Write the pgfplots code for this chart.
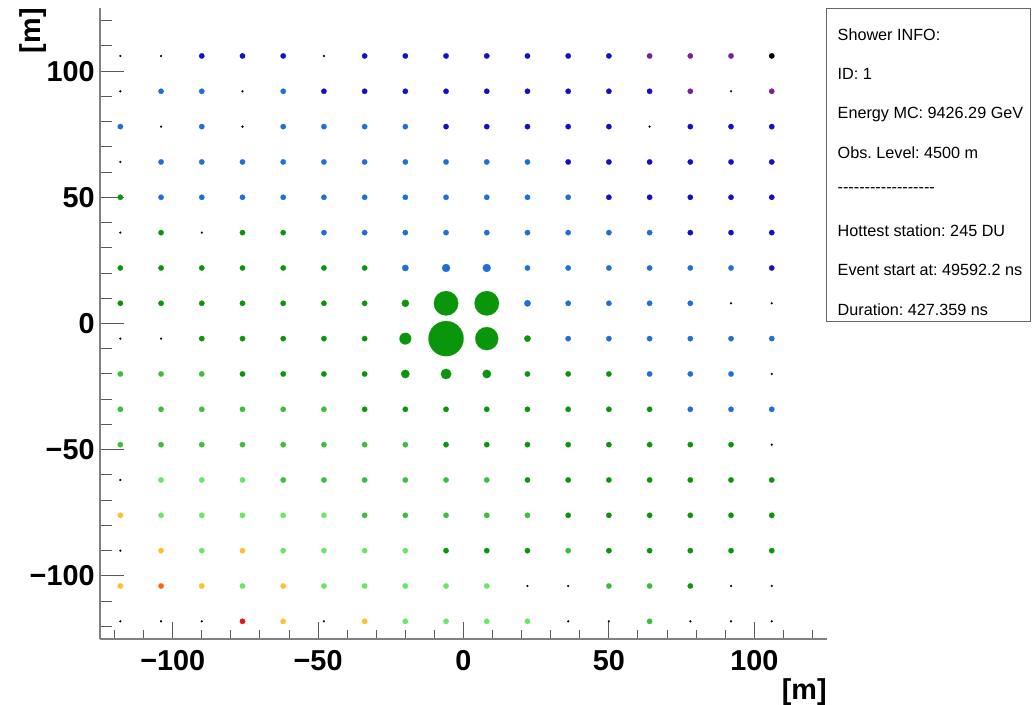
\documentclass[border=0pt]{standalone}
\usepackage{fontspec}
\setmainfont{Liberation Sans}
\usepackage{pgfplots}
\pgfplotsset{compat=1.18}

\definecolor{cDB}{HTML}{1212C2}
\definecolor{cB}{HTML}{1E70D2}
\definecolor{cP}{HTML}{7A1E9E}
\definecolor{cG}{HTML}{0A960A}
\definecolor{cMG}{HTML}{3CBE3C}
\definecolor{cLG}{HTML}{66E866}
\definecolor{cY}{HTML}{FFC02A}
\definecolor{cO}{HTML}{FF6414}
\definecolor{cR}{HTML}{EE1414}
\definecolor{cK}{HTML}{000000}

\pgfplotsset{
  stn/.style={scatter, only marks, mark=*,
    scatter/use mapped color={draw=#1, fill=#1},
    mark options={line width=0.1pt},
    visualization depends on={\thisrow{s}\as\perpointmarksize},
    scatter/@pre marker code/.append style={/tikz/mark size=\perpointmarksize}},
  frame/.style={
    at={(50pt,33pt)}, anchor=south west,
    scale only axis, width=363.5pt, height=315.5pt,
    xmin=-125, xmax=125, ymin=-125, ymax=125,
    axis line style={draw opacity=0},
    tick align=inside,
    xtick pos=left, ytick pos=left,
    tick style={draw=black!65, line width=0.5pt},
    clip=false,
  },
}
\newcommand{\tickfont}{\fontsize{14.4}{14.4}\selectfont\bfseries}

\begin{document}
\frenchspacing
\begin{tikzpicture}
\useasboundingbox (0,0) rectangle (517pt,352.5pt);

% x axis
\begin{axis}[frame,
  ytick=\empty,
  xtick={-100,-50,0,50,100},
  xticklabels={−100,−50,0,50,100},
  minor xtick={-120,-110,-90,-80,-70,-60,-40,-30,-20,-10,10,20,30,40,60,70,80,90,110,120},
  major tick length=8.5pt, minor tick length=4.5pt,
  xticklabel style={inner sep=0pt, yshift=-5.5pt, font=\tickfont},
  xlabel={[m]},
  every axis x label/.style={at={(axis description cs:1,-0.0618)}, anchor=north east, inner sep=0pt, font=\tickfont},
]
\addplot[draw=none, forget plot] coordinates {(0,0)};
\draw[black!50, line width=1pt] (rel axis cs:0,0) -- (rel axis cs:1,0);
\end{axis}

% y axis and stations
\begin{axis}[frame,
  xtick=\empty,
  ytick={-100,-50,0,50,100},
  yticklabels={−100,−50,0,50,100},
  minor ytick={-120,-110,-90,-80,-70,-60,-40,-30,-20,-10,10,20,30,40,60,70,80,90,110,120},
  major tick length=12pt, minor tick length=6pt,
  yticklabel style={inner sep=0pt, xshift=-2.5pt, font=\tickfont},
  ylabel={[m]},
  every axis y label/.style={at={(axis description cs:-0.0729,1)}, anchor=south east, rotate=90, inner sep=0pt, font=\tickfont},
]
\draw[black!50, line width=1pt] (rel axis cs:0,0) -- (rel axis cs:0,1);
% no signal stations
\addplot[stn=cK] table[row sep=\\]{x y s\\
-118 106 0.5\\ -104 106 0.5\\ -48 106 0.5\\ 106 106 1.35\\
-118 92 0.5\\ -76 92 0.5\\ 92 92 0.5\\
-104 78 0.5\\ -76 78 0.5\\ 64 78 0.5\\
-118 64 0.5\\
-118 36 0.5\\ -90 36 0.5\\
92 8 0.5\\ 106 8 0.5\\
-118 -6 0.5\\ -104 -6 0.5\\
106 -20 0.5\\
106 -48 0.5\\
-118 -62 0.5\\
-118 -90 0.5\\
22 -104 0.5\\ 36 -104 0.5\\ 92 -104 0.5\\ 106 -104 0.5\\
-118 -118 0.5\\ -104 -118 0.5\\ -90 -118 0.5\\ -48 -118 0.5\\ 36 -118 0.5\\ 50 -118 0.5\\ 78 -118 0.5\\ 92 -118 0.5\\ 106 -118 0.5\\
};
% purple
\addplot[stn=cP] table[row sep=\\]{x y s\\
64 106 1.35\\ 78 106 1.35\\ 92 106 1.35\\ 78 92 1.35\\ 106 92 1.35\\
};
% dark blue
\addplot[stn=cDB] table[row sep=\\]{x y s\\
-90 106 1.35\\ -76 106 1.35\\ -62 106 1.35\\ -34 106 1.35\\ -20 106 1.35\\ -6 106 1.35\\ 8 106 1.35\\ 22 106 1.35\\ 36 106 1.35\\ 50 106 1.35\\
-48 92 1.35\\ -34 92 1.35\\ -20 92 1.35\\ -6 92 1.35\\ 8 92 1.35\\ 22 92 1.35\\ 36 92 1.35\\ 50 92 1.35\\ 64 92 1.35\\
-6 78 1.35\\ 8 78 1.35\\ 22 78 1.35\\ 36 78 1.35\\ 50 78 1.35\\ 78 78 1.35\\ 92 78 1.35\\ 106 78 1.35\\
36 64 1.35\\ 50 64 1.35\\ 64 64 1.35\\ 78 64 1.35\\ 92 64 1.35\\ 106 64 1.35\\
50 50 1.35\\ 64 50 1.35\\ 78 50 1.35\\ 92 50 1.35\\ 106 50 1.35\\
78 36 1.35\\ 92 36 1.35\\ 106 36 1.35\\
106 22 1.35\\
};
% blue
\addplot[stn=cB] table[row sep=\\]{x y s\\
-104 92 1.35\\ -90 92 1.35\\ -62 92 1.35\\
-118 78 1.35\\ -90 78 1.35\\ -62 78 1.35\\ -48 78 1.35\\ -34 78 1.35\\ -20 78 1.35\\
-104 64 1.35\\ -90 64 1.35\\ -76 64 1.35\\ -62 64 1.35\\ -48 64 1.35\\ -34 64 1.35\\ -20 64 1.35\\ -6 64 1.35\\ 8 64 1.35\\ 22 64 1.35\\
-104 50 1.35\\ -90 50 1.35\\ -76 50 1.35\\ -62 50 1.35\\ -48 50 1.35\\ -34 50 1.35\\ -20 50 1.35\\ -6 50 1.35\\ 8 50 1.35\\ 22 50 1.35\\ 36 50 1.35\\
-48 36 1.35\\ -34 36 1.35\\ -20 36 1.35\\ -6 36 1.35\\ 8 36 1.35\\ 22 36 1.35\\ 36 36 1.35\\ 50 36 1.35\\ 64 36 1.35\\
-20 22 1.6\\ -6 22 2.0\\ 8 22 2.0\\ 22 22 1.35\\ 36 22 1.35\\ 50 22 1.35\\ 64 22 1.35\\ 78 22 1.35\\ 92 22 1.35\\
22 8 1.6\\ 36 8 1.35\\ 50 8 1.35\\ 64 8 1.35\\ 78 8 1.35\\
36 -6 1.35\\ 50 -6 1.35\\ 64 -6 1.35\\ 78 -6 1.35\\ 92 -6 1.35\\ 106 -6 1.35\\
64 -20 1.35\\ 78 -20 1.35\\ 92 -20 1.35\\
78 -34 1.35\\ 92 -34 1.35\\ 106 -34 1.35\\
};
% green
\addplot[stn=cG] table[row sep=\\]{x y s\\
-118 50 1.35\\
-104 36 1.35\\ -76 36 1.35\\ -62 36 1.35\\
-118 22 1.35\\ -104 22 1.35\\ -90 22 1.35\\ -76 22 1.35\\ -62 22 1.35\\ -48 22 1.35\\ -34 22 1.35\\
-118 8 1.35\\ -104 8 1.35\\ -90 8 1.35\\ -76 8 1.35\\ -62 8 1.35\\ -48 8 1.35\\ -34 8 1.35\\ -20 8 1.8\\ -6 8 6.1\\ 8 8 6.1\\
-90 -6 1.35\\ -76 -6 1.35\\ -62 -6 1.35\\ -48 -6 1.35\\ -34 -6 1.35\\ -20 -6 2.9\\ -6 -6 8.75\\ 8 -6 5.75\\ 22 -6 1.6\\
-76 -20 1.35\\ -62 -20 1.35\\ -48 -20 1.35\\ -34 -20 1.35\\ -20 -20 2.1\\ -6 -20 2.6\\ 8 -20 2.1\\ 22 -20 1.35\\ 36 -20 1.35\\ 50 -20 1.35\\
-34 -34 1.35\\ -20 -34 1.35\\ -6 -34 1.35\\ 8 -34 1.35\\ 22 -34 1.35\\ 36 -34 1.35\\ 50 -34 1.35\\ 64 -34 1.35\\
-6 -48 1.35\\ 8 -48 1.35\\ 22 -48 1.35\\ 36 -48 1.35\\ 50 -48 1.35\\ 64 -48 1.35\\ 78 -48 1.35\\ 92 -48 1.35\\
22 -62 1.35\\ 36 -62 1.35\\ 50 -62 1.35\\ 64 -62 1.35\\ 78 -62 1.35\\ 92 -62 1.35\\ 106 -62 1.35\\
36 -76 1.35\\ 50 -76 1.35\\ 64 -76 1.35\\ 78 -76 1.35\\ 92 -76 1.35\\ 106 -76 1.35\\
-6 -90 1.35\\ 8 -90 1.35\\ 22 -90 1.35\\ 50 -90 1.35\\ 64 -90 1.35\\ 78 -90 1.35\\ 92 -90 1.35\\ 106 -90 1.35\\
78 -104 1.35\\
};
% medium green
\addplot[stn=cMG] table[row sep=\\]{x y s\\
-118 -20 1.35\\ -104 -20 1.35\\ -90 -20 1.35\\
-118 -34 1.35\\ -104 -34 1.35\\ -90 -34 1.35\\ -76 -34 1.35\\ -62 -34 1.35\\ -48 -34 1.35\\
-118 -48 1.35\\ -104 -48 1.35\\ -90 -48 1.35\\ -76 -48 1.35\\ -62 -48 1.35\\ -48 -48 1.35\\ -34 -48 1.35\\ -20 -48 1.35\\
-62 -62 1.35\\ -48 -62 1.35\\ -34 -62 1.35\\ -20 -62 1.35\\ -6 -62 1.35\\ 8 -62 1.35\\
-34 -76 1.35\\ -20 -76 1.35\\ -6 -76 1.35\\ 8 -76 1.35\\ 22 -76 1.35\\
36 -90 1.35\\
50 -104 1.35\\ 64 -104 1.35\\
64 -118 1.35\\
};
% light green
\addplot[stn=cLG] table[row sep=\\]{x y s\\
-104 -62 1.35\\ -90 -62 1.35\\ -76 -62 1.35\\
-104 -76 1.35\\ -90 -76 1.35\\ -76 -76 1.35\\ -62 -76 1.35\\ -48 -76 1.35\\
-90 -90 1.35\\ -62 -90 1.35\\ -48 -90 1.35\\ -34 -90 1.35\\ -20 -90 1.35\\
-76 -104 1.35\\ -48 -104 1.35\\ -34 -104 1.35\\ -20 -104 1.35\\ -6 -104 1.35\\ 8 -104 1.35\\
-20 -118 1.35\\ -6 -118 1.35\\ 8 -118 1.35\\ 22 -118 1.35\\
};
% yellow
\addplot[stn=cY] table[row sep=\\]{x y s\\
-118 -76 1.35\\ -104 -90 1.35\\ -76 -90 1.35\\ -118 -104 1.35\\ -90 -104 1.35\\ -62 -104 1.35\\ -62 -118 1.35\\ -34 -118 1.35\\
};
% orange
\addplot[stn=cO] table[row sep=\\]{x y s\\
-104 -104 1.35\\
};
% red
\addplot[stn=cR] table[row sep=\\]{x y s\\
-76 -118 1.35\\
};
\end{axis}

% info box
\draw[black!60, line width=0.5pt, fill=white] (413.35pt,191.65pt) rectangle (515.35pt,348.35pt);
\begin{scope}[every node/.style={anchor=base west, inner sep=0pt, font=\fontsize{8.1}{9.7}\selectfont}]
\node at (418.65pt,332.15pt) {Shower INFO:};
\node at (418.65pt,312.85pt) {ID: 1};
\node at (418.65pt,293pt) {Energy MC: 9426.29 GeV};
\node at (418.65pt,273.35pt) {Obs. Level: 4500 m};
\node at (418.65pt,256.25pt) {-{}-{}-{}-{}-{}-{}-{}-{}-{}-{}-{}-{}-{}-{}-{}-{}-{}-{}};
\node at (418.65pt,234.15pt) {Hottest station: 245 DU};
\node at (418.65pt,214.5pt) {Event start at: 49592.2 ns};
\node at (418.65pt,194.85pt) {Duration: 427.359 ns};
\end{scope}
\end{tikzpicture}
\end{document}
